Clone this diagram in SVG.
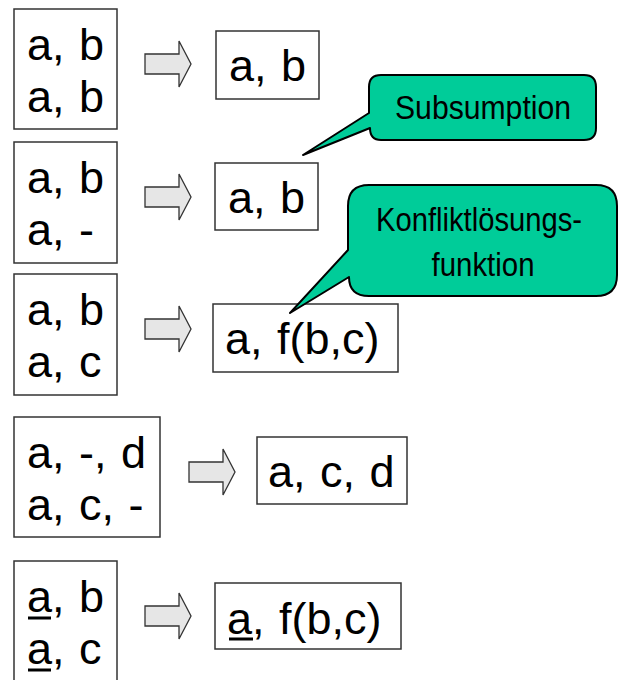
<svg xmlns="http://www.w3.org/2000/svg" xmlns:xlink="http://www.w3.org/1999/xlink" width="620" height="680" viewBox="0 0 620 680">
<style>
.box{fill:#fff;stroke:#333;stroke-width:1.5}
.t{font-family:"Liberation Sans",Arial,sans-serif;font-size:45px;word-spacing:2px;fill:#000}
.c{font-family:"Liberation Sans",Arial,sans-serif;font-size:33px;fill:#000;text-anchor:middle}
.call{fill:#00CC99;stroke:#000;stroke-width:2;stroke-linejoin:round}
.arr{fill:#E6E6E6;stroke:#333;stroke-width:1.3;stroke-linejoin:miter}
.ul{stroke:#000;stroke-width:3}
</style>
<defs>
<path id="arrow" d="M0,-10 H34 V-23 L46,0 L34,23 V10 H0 Z"/>
</defs>
<rect width="620" height="680" fill="#fff"/>

<g id="connectors">
<use xlink:href="#arrow" class="arr" transform="translate(145,64)"/>
<use xlink:href="#arrow" class="arr" transform="translate(145,197)"/>
<use xlink:href="#arrow" class="arr" transform="translate(145,329)"/>
<use xlink:href="#arrow" class="arr" transform="translate(189,472)"/>
<use xlink:href="#arrow" class="arr" transform="translate(145,616)"/>
</g>

<g id="row1-in">
<rect class="box" x="14" y="9" width="103" height="120"/>
<text class="t" x="27" y="60">a, b</text>
<text class="t" x="27" y="112">a, b</text>
</g>
<g id="row1-out">
<rect class="box" x="216" y="31" width="103" height="68"/>
<text class="t" x="229" y="81">a, b</text>
</g>

<g id="row2-in">
<rect class="box" x="14" y="142" width="103" height="121"/>
<text class="t" x="27" y="193">a, b</text>
<text class="t" x="27" y="245">a, -</text>
</g>
<g id="row2-out">
<rect class="box" x="215" y="163" width="103" height="67"/>
<text class="t" x="228" y="213">a, b</text>
</g>

<g id="row3-in">
<rect class="box" x="14" y="274" width="103" height="121"/>
<text class="t" x="27" y="325">a, b</text>
<text class="t" x="27" y="377">a, c</text>
</g>
<g id="row3-out">
<rect class="box" x="213" y="304" width="185" height="68"/>
<text class="t" x="225" y="354">a, f(b,c)</text>
</g>

<g id="row4-in">
<rect class="box" x="14" y="417" width="146" height="120"/>
<text class="t" x="27" y="468">a, -, d</text>
<text class="t" x="27" y="520">a, c, -</text>
</g>
<g id="row4-out">
<rect class="box" x="257" y="437" width="150" height="67"/>
<text class="t" x="268" y="487">a, c, d</text>
</g>

<g id="row5-in">
<rect class="box" x="14" y="561" width="103" height="130"/>
<text class="t" x="27" y="612">a, b</text>
<text class="t" x="27" y="664">a, c</text>
<line class="ul" x1="28" y1="618" x2="51" y2="618"/>
<line class="ul" x1="28" y1="670" x2="51" y2="670"/>
</g>
<g id="row5-out">
<rect class="box" x="215" y="583" width="186" height="66"/>
<text class="t" x="227" y="634">a, f(b,c)</text>
<line class="ul" x1="229" y1="639" x2="253" y2="639"/>
</g>

<g id="callout-subsumption">
<path class="call" d="M381,75 H584 Q596,75 596,87 V128 Q596,140 584,140 H381 Q370,140 370,128 L303,155 L369,113 V87 Q369,75 381,75 Z"/>
<text class="c" x="483" y="119" textLength="176" lengthAdjust="spacingAndGlyphs">Subsumption</text>
</g>

<g id="callout-konflikt">
<path class="call" d="M369,185 H596 Q617,185 617,206 V275 Q617,296 596,296 H369 Q349,296 349,277 L290,313 L348,250 V206 Q348,185 369,185 Z"/>
<text class="c" x="479" y="231" textLength="206" lengthAdjust="spacingAndGlyphs">Konfliktlösungs-</text>
<text class="c" x="483" y="276" textLength="103" lengthAdjust="spacingAndGlyphs">funktion</text>
</g>
</svg>
